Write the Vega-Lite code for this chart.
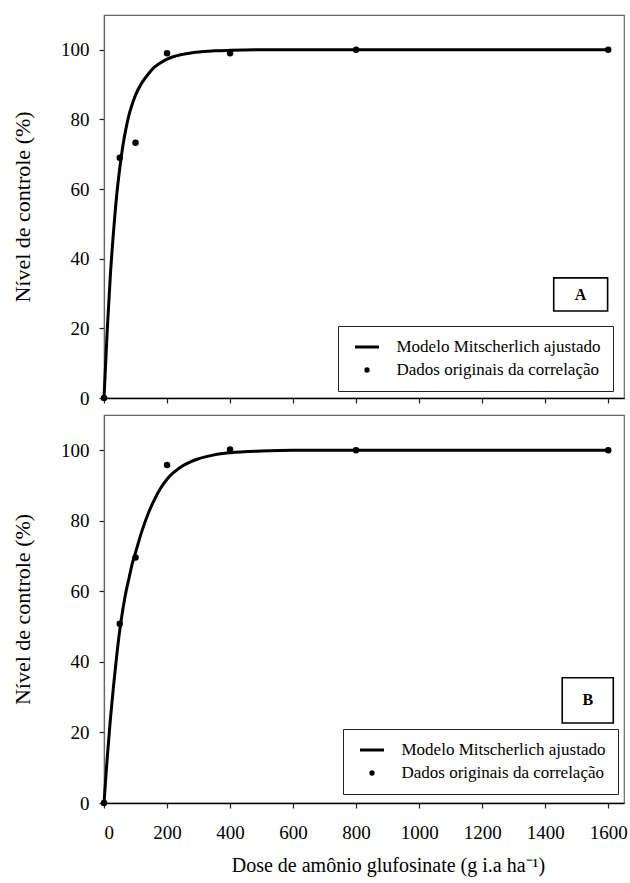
{
  "$schema": "https://vega.github.io/schema/vega-lite/v6.json",
  "padding": {"left": 10, "top": 14, "right": 7, "bottom": 5},
  "background": "white",
  "spacing": 5,
  "config": {
    "font": "Liberation Serif, serif",
    "view": {"stroke": "#666", "strokeWidth": 1.2},
    "axis": {
      "labelFont": "Liberation Serif, serif", "labelFontSize": 19, "labelColor": "black",
      "titleFont": "Liberation Serif, serif", "titleFontSize": 20, "titleFontWeight": "normal", "titleColor": "black",
      "grid": false, "tickSize": 5, "tickColor": "#222", "tickWidth": 1.2, "format": "d"
    },
    "axisX": {"domainColor": "black", "domainWidth": 1.5},
    "axisY": {"domainColor": "#666", "domainWidth": 1.2, "titleFontSize": 22}
  },
  "datasets": {
    "curveA": [
      {"dose": 0, "controle": 0}, {"dose": 10, "controle": 19}, {"dose": 20, "controle": 35}, {"dose": 30, "controle": 47.5},
      {"dose": 40, "controle": 58}, {"dose": 50, "controle": 66}, {"dose": 60, "controle": 72.5}, {"dose": 70, "controle": 77.5},
      {"dose": 80, "controle": 81.5}, {"dose": 90, "controle": 84.5}, {"dose": 100, "controle": 87}, {"dose": 120, "controle": 90.5},
      {"dose": 140, "controle": 93}, {"dose": 160, "controle": 95}, {"dose": 180, "controle": 96.3}, {"dose": 200, "controle": 97.3},
      {"dose": 250, "controle": 98.7}, {"dose": 300, "controle": 99.4}, {"dose": 350, "controle": 99.7}, {"dose": 400, "controle": 99.85},
      {"dose": 500, "controle": 100}, {"dose": 600, "controle": 100}, {"dose": 800, "controle": 100}, {"dose": 1000, "controle": 100},
      {"dose": 1200, "controle": 100}, {"dose": 1400, "controle": 100}, {"dose": 1600, "controle": 100}
    ],
    "pointsA": [
      {"dose": 0, "controle": 0}, {"dose": 50, "controle": 69}, {"dose": 100, "controle": 73.3}, {"dose": 200, "controle": 99},
      {"dose": 400, "controle": 99}, {"dose": 800, "controle": 100}, {"dose": 1600, "controle": 100}
    ],
    "curveB": [
      {"dose": 0, "controle": 0}, {"dose": 10, "controle": 12.5}, {"dose": 20, "controle": 23.5}, {"dose": 30, "controle": 33},
      {"dose": 40, "controle": 41.5}, {"dose": 50, "controle": 49}, {"dose": 60, "controle": 55}, {"dose": 70, "controle": 60},
      {"dose": 80, "controle": 64}, {"dose": 90, "controle": 68}, {"dose": 100, "controle": 71}, {"dose": 120, "controle": 77},
      {"dose": 140, "controle": 82}, {"dose": 160, "controle": 86}, {"dose": 180, "controle": 89.3}, {"dose": 200, "controle": 91.8},
      {"dose": 250, "controle": 95.6}, {"dose": 300, "controle": 97.6}, {"dose": 350, "controle": 98.7}, {"dose": 400, "controle": 99.3},
      {"dose": 500, "controle": 99.8}, {"dose": 600, "controle": 100}, {"dose": 800, "controle": 100}, {"dose": 1000, "controle": 100},
      {"dose": 1200, "controle": 100}, {"dose": 1400, "controle": 100}, {"dose": 1600, "controle": 100}
    ],
    "pointsB": [
      {"dose": 0, "controle": 0}, {"dose": 50, "controle": 50.8}, {"dose": 100, "controle": 69.6}, {"dose": 200, "controle": 95.8},
      {"dose": 400, "controle": 100.2}, {"dose": 800, "controle": 100}, {"dose": 1600, "controle": 100}
    ]
  },
  "resolve": {"legend": {"color": "independent"}, "scale": {"color": "independent"}},
  "vconcat": [
    {
      "width": 520,
      "height": 383,
      "layer": [
        {
          "data": {"name": "curveA"},
          "mark": {"type": "line", "strokeWidth": 3, "interpolate": "monotone"},
          "encoding": {
            "x": {"field": "dose", "type": "quantitative", "scale": {"domain": [0, 1650], "nice": false},
                  "axis": {"values": [0, 200, 400, 600, 800, 1000, 1200, 1400, 1600], "labels": false, "title": null}},
            "y": {"field": "controle", "type": "quantitative", "scale": {"domain": [0, 110], "nice": false},
                  "axis": {"values": [0, 20, 40, 60, 80, 100], "title": "Nível de controle (%)", "titlePadding": 26, "labelPadding": 10}},
            "color": {
              "datum": "Modelo Mitscherlich ajustado", "type": "nominal",
              "scale": {"domain": ["Modelo Mitscherlich ajustado", "Dados originais da correlação"], "range": ["black", "black"]},
              "legend": {
                "title": null, "orient": "none", "legendX": 234, "legendY": 311,
                "labelFont": "Liberation Serif, serif", "labelFontSize": 17, "labelColor": "black", "labelLimit": 0,
                "strokeColor": "#222", "fillColor": "white", "padding": 12.5, "rowPadding": 5,
                "labelOffset": 21, "symbolOffset": 8,
                "encode": {"symbols": {"update": {
                  "shape": {"signal": "datum.value === 'Modelo Mitscherlich ajustado' ? 'stroke' : 'circle'"},
                  "size": {"signal": "datum.value === 'Modelo Mitscherlich ajustado' ? 576 : 28"},
                  "strokeWidth": {"signal": "datum.value === 'Modelo Mitscherlich ajustado' ? 3 : 0"},
                  "stroke": {"value": "black"}, "fill": {"value": "black"}, "opacity": {"value": 1}
                }}}
              }
            }
          }
        },
        {
          "data": {"name": "pointsA"},
          "mark": {"type": "point", "filled": true, "size": 42, "opacity": 1},
          "encoding": {
            "x": {"field": "dose", "type": "quantitative"},
            "y": {"field": "controle", "type": "quantitative"},
            "color": {"datum": "Dados originais da correlação", "type": "nominal"}
          }
        },
        {
          "data": {"values": [{}]},
          "mark": {"type": "rect", "fill": "white", "stroke": "black", "strokeWidth": 1.6},
          "encoding": {"x": {"datum": 1427}, "x2": {"datum": 1598}, "y": {"datum": 34.5}, "y2": {"datum": 25}}
        },
        {
          "data": {"values": [{}]},
          "mark": {"type": "text", "text": "A", "font": "Liberation Serif, serif", "fontSize": 16, "fontWeight": "bold", "color": "black", "align": "center", "baseline": "middle"},
          "encoding": {"x": {"datum": 1512}, "y": {"datum": 29.7}}
        }
      ]
    },
    {
      "width": 520,
      "height": 388,
      "layer": [
        {
          "data": {"name": "curveB"},
          "mark": {"type": "line", "strokeWidth": 3, "interpolate": "monotone"},
          "encoding": {
            "x": {"field": "dose", "type": "quantitative", "scale": {"domain": [0, 1650], "nice": false},
                  "axis": {"values": [0, 200, 400, 600, 800, 1000, 1200, 1400, 1600], "title": "Dose de amônio glufosinate (g i.a ha⁻¹)",
                           "labelPadding": 15, "titlePadding": 13, "titleX": 284, "titleAlign": "center"}},
            "y": {"field": "controle", "type": "quantitative", "scale": {"domain": [0, 110], "nice": false},
                  "axis": {"values": [0, 20, 40, 60, 80, 100], "title": "Nível de controle (%)", "titlePadding": 26, "labelPadding": 10}},
            "color": {
              "datum": "Modelo Mitscherlich ajustado", "type": "nominal",
              "scale": {"domain": ["Modelo Mitscherlich ajustado", "Dados originais da correlação"], "range": ["black", "black"]},
              "legend": {
                "title": null, "orient": "none", "legendX": 239, "legendY": 314,
                "labelFont": "Liberation Serif, serif", "labelFontSize": 17, "labelColor": "black", "labelLimit": 0,
                "strokeColor": "#222", "fillColor": "white", "padding": 12.5, "rowPadding": 5,
                "labelOffset": 21, "symbolOffset": 8,
                "encode": {"symbols": {"update": {
                  "shape": {"signal": "datum.value === 'Modelo Mitscherlich ajustado' ? 'stroke' : 'circle'"},
                  "size": {"signal": "datum.value === 'Modelo Mitscherlich ajustado' ? 576 : 28"},
                  "strokeWidth": {"signal": "datum.value === 'Modelo Mitscherlich ajustado' ? 3 : 0"},
                  "stroke": {"value": "black"}, "fill": {"value": "black"}, "opacity": {"value": 1}
                }}}
              }
            }
          }
        },
        {
          "data": {"name": "pointsB"},
          "mark": {"type": "point", "filled": true, "size": 42, "opacity": 1},
          "encoding": {
            "x": {"field": "dose", "type": "quantitative"},
            "y": {"field": "controle", "type": "quantitative"},
            "color": {"datum": "Dados originais da correlação", "type": "nominal"}
          }
        },
        {
          "data": {"values": [{}]},
          "mark": {"type": "rect", "fill": "white", "stroke": "black", "strokeWidth": 1.6},
          "encoding": {"x": {"datum": 1454}, "x2": {"datum": 1616}, "y": {"datum": 35.5}, "y2": {"datum": 22.7}}
        },
        {
          "data": {"values": [{}]},
          "mark": {"type": "text", "text": "B", "font": "Liberation Serif, serif", "fontSize": 16, "fontWeight": "bold", "color": "black", "align": "center", "baseline": "middle"},
          "encoding": {"x": {"datum": 1535}, "y": {"datum": 29.1}}
        }
      ]
    }
  ]
}
